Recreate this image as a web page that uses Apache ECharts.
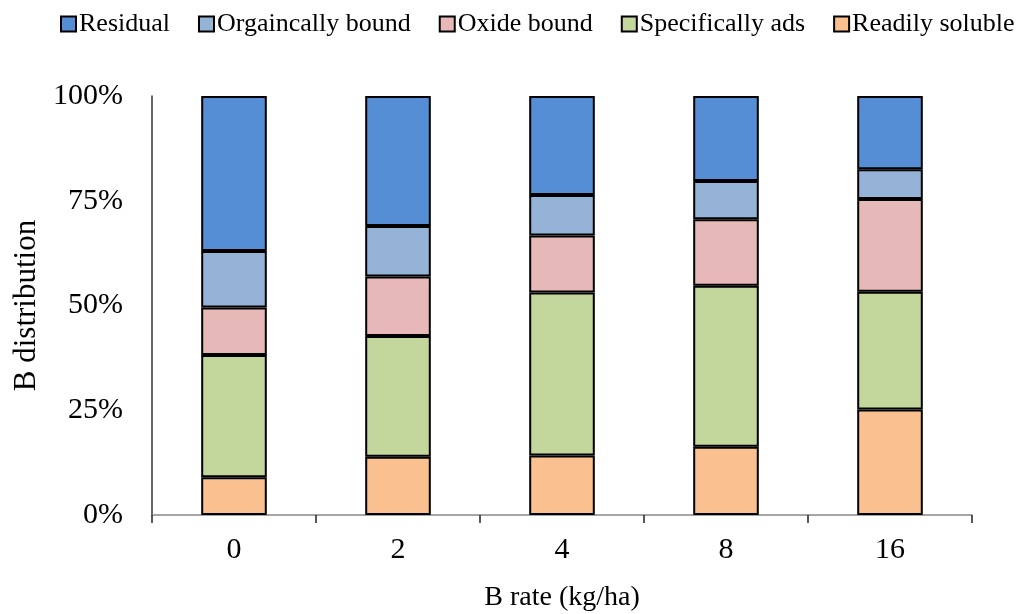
<!DOCTYPE html>
<html><head><meta charset="utf-8">
<script src="https://cdn.jsdelivr.net/npm/echarts@6/dist/echarts.min.js"></script>
<style>html,body{margin:0;padding:0;background:#fff}#c{width:1022px;height:614px}</style>
</head><body><div id="c"></div>
<script>
const categories = ['0', '2', '4', '8', '16'];
const readilySoluble = [9.0, 13.9, 14.2, 16.3, 25.2];
const specificallyAds = [29.2, 28.8, 38.9, 38.4, 28.1];
const oxideBound = [11.3, 14.2, 13.6, 15.9, 22.1];
const organicallyBound = [13.5, 12.1, 9.7, 9.1, 7.1];
const residual = [37.0, 31.0, 23.6, 20.3, 17.5];
const legendOrder = ['Residual', 'Orgaincally bound', 'Oxide bound', 'Specifically ads', 'Readily soluble'];

const font = '"Liberation Serif","Times New Roman",serif';
function s(name, data, color) {
  return {name, type: 'bar', stack: 'all', data, barWidth: '40%',
    itemStyle: {color, borderColor: '#000', borderWidth: 2}};
}
const chart = echarts.init(document.getElementById('c'));
chart.setOption({
  animation: false,
  textStyle: {fontFamily: font},
  legend: {data: legendOrder, top: 6, left: 55, icon: 'rect', itemWidth: 15, itemHeight: 15, itemGap: 28,
    textStyle: {fontFamily: font, fontSize: 26, color: '#000', padding: [0, 0, 0, -2]}},
  grid: {left: 152, right: 50, top: 96, bottom: 99, containLabel: false, outerBoundsMode: 'none'},
  xAxis: {type: 'category', data: categories, name: 'B rate (kg/ha)', nameLocation: 'middle', nameGap: 69,
    nameTextStyle: {fontFamily: font, fontSize: 28, color: '#000'},
    axisLine: {lineStyle: {color: '#888', width: 1.5}},
    axisTick: {show: true, length: 8, lineStyle: {color: '#222', width: 1.5}},
    axisLabel: {fontFamily: font, fontSize: 30, color: '#000', margin: 20}},
  yAxis: {type: 'value', min: 0, max: 100, interval: 25, name: 'B distribution', nameLocation: 'middle', nameGap: 110,
    nameTextStyle: {fontFamily: font, fontSize: 31, color: '#000'},
    axisLine: {show: true, lineStyle: {color: '#333', width: 1.5}},
    axisTick: {show: false}, splitLine: {show: false},
    axisLabel: {formatter: '{value}%', fontFamily: font, fontSize: 30, color: '#000', margin: 29}},
  series: [
    s('Readily soluble', readilySoluble, '#FAC090'),
    s('Specifically ads', specificallyAds, '#C3D69B'),
    s('Oxide bound', oxideBound, '#E6B9B8'),
    s('Orgaincally bound', organicallyBound, '#95B3D7'),
    s('Residual', residual, '#558ED5')
  ]
});
</script></body></html>
